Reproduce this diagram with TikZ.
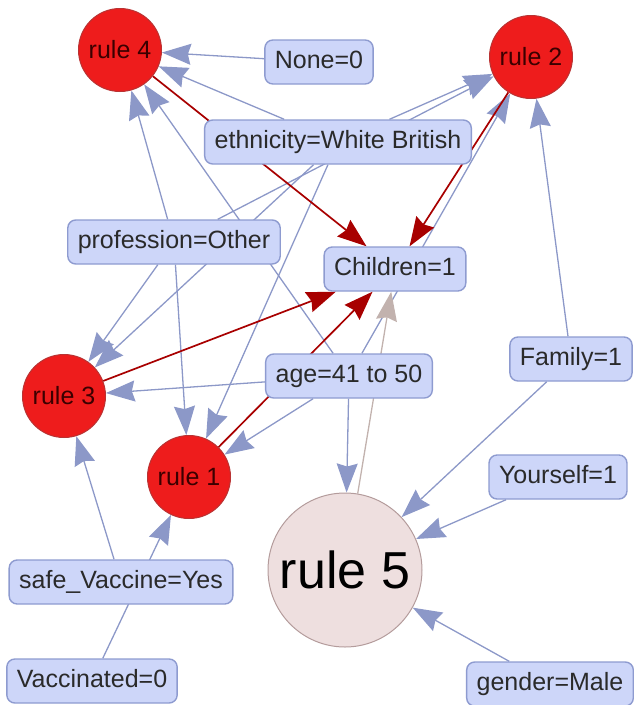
\documentclass[tikz,border=0pt]{standalone}
\usepackage{fontspec}
\setmainfont{Liberation Sans}
\usetikzlibrary{arrows.meta,backgrounds}
\definecolor{blau}{HTML}{8C98C8}
\definecolor{blaul}{HTML}{CDD6F9}
\definecolor{blaud}{HTML}{8E9BD0}
\definecolor{rot}{HTML}{EE1C1C}
\definecolor{rotd}{HTML}{A80000}
\definecolor{rosa}{HTML}{EEDFDF}
\definecolor{rosad}{HTML}{B49C9C}
\definecolor{grau}{HTML}{C2B2AE}
\definecolor{schrift}{HTML}{2A2A2A}
\tikzset{
  merkmal/.style={rectangle,rounded corners=8pt,draw=blaud,fill=blaul,line width=1.4pt,
    text=schrift,font=\fontsize{25}{30}\selectfont,inner xsep=10pt,
    text height=18pt,text depth=5pt,minimum height=44pt},
  regel/.style={circle,draw=rotd!80,fill=rot,line width=1pt,minimum size=83pt,
    inner sep=0pt,text=rotd!35!black,font=\fontsize{25}{30}\selectfont},
  regelg/.style={circle,draw=rosad,fill=rosa,line width=1pt,minimum size=154pt,
    inner sep=0pt,text=black,font=\fontsize{52}{60}\selectfont},
  pfeil/.style={-{Stealth[length=29pt,width=21pt,inset=3pt]},blau,line width=1.3pt},
  pfeilr/.style={-{Stealth[length=29pt,width=21pt,inset=3pt]},rotd,line width=1.7pt},
  pfeilg/.style={-{Stealth[length=29pt,width=21pt,inset=3pt]},grau,line width=1.3pt},
}
\begin{document}
\begin{tikzpicture}[x=1pt,y=-1pt]
  \useasboundingbox (0,0) rectangle (634,705);
  % Regeln
  \node[regel] (r4) at (120,50) {rule 4};
  \node[regel] (r2) at (531,57) {rule 2};
  \node[regel] (r3) at (64,396) {rule 3};
  \node[regel] (r1) at (189,477) {rule 1};
  \node[regelg] (r5) at (345,570) {rule 5};
  % Merkmale
  \node[merkmal] (none) at (319,62) {None=0};
  \node[merkmal] (eth) at (338,142) {ethnicity=White British};
  \node[merkmal] (prof) at (174,242) {profession=Other};
  \node[merkmal] (kind) at (395,269) {Children=1};
  \node[merkmal] (fam) at (571,359) {Family=1};
  \node[merkmal] (alter) at (349,376) {age=41 to 50};
  \node[merkmal] (selbst) at (558,477) {Yourself=1};
  \node[merkmal] (sicher) at (121,582) {safe\_Vaccine=Yes};
  \node[merkmal] (geimpft) at (92,681) {Vaccinated=0};
  \node[merkmal] (gender) at (550,684) {gender=Male};
  \begin{pgfonlayer}{background}
    % Bedingungen -> Regel
    \draw[pfeil] (none) -- (r4);
    \draw[pfeil] (eth) -- (r4);
    \draw[pfeil] (prof) -- (r4);
    \draw[pfeil] (alter) -- (r4);
    \draw[pfeil] (eth) -- (r2);
    \draw[pfeil] (prof) -- (r2);
    \draw[pfeil] (alter) -- (r2);
    \draw[pfeil] (fam) -- (r2);
    \draw[pfeil] (eth) -- (r3);
    \draw[pfeil] (prof) -- (r3);
    \draw[pfeil] (alter) -- (r3);
    \draw[pfeil] (sicher) -- (r3);
    \draw[pfeil] (eth) -- (r1);
    \draw[pfeil] (prof) -- (r1);
    \draw[pfeil] (alter) -- (r1);
    \draw[pfeil] (geimpft) -- (r1);
    \draw[pfeil] (alter) -- (r5);
    \draw[pfeil] (fam) -- (r5);
    \draw[pfeil] (selbst) -- (r5);
    \draw[pfeil] (gender) -- (r5);
    % Regel -> Folgerung
    \draw[pfeilr] (r4) -- (kind);
    \draw[pfeilr] (r2) -- (kind);
    \draw[pfeilr] (r3) -- (kind);
    \draw[pfeilr] (r1) -- (kind);
    \draw[pfeilg] (r5) -- (kind);
  \end{pgfonlayer}
\end{tikzpicture}
\end{document}
